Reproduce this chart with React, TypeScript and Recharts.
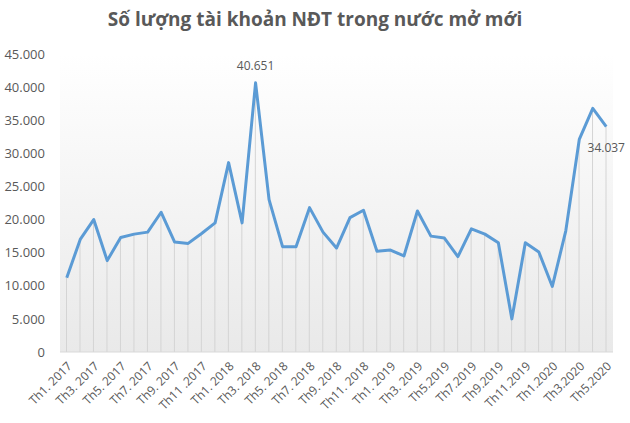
import React from 'react';
import { ComposedChart, Line, Bar, XAxis, YAxis, CartesianGrid, LabelList } from 'recharts';

const months = [
  'Th1. 2017', 'Th2. 2017', 'Th3. 2017', 'Th4. 2017', 'Th5. 2017', 'Th6. 2017',
  'Th7. 2017', 'Th8. 2017', 'Th9. 2017', 'Th10. 2017', 'Th11 .2017', 'Th12. 2017',
  'Th1. 2018', 'Th2. 2018', 'Th3. 2018', 'Th4. 2018', 'Th5. 2018', 'Th6. 2018',
  'Th7. 2018', 'Th8. 2018', 'Th9. 2018', 'Th10. 2018', 'Th11. 2018', 'Th12. 2018',
  'Th1. 2019', 'Th2. 2019', 'Th3. 2019', 'Th4.2019', 'Th5.2019', 'Th6.2019',
  'Th7.2019', 'Th8.2019', 'Th9.2019', 'Th10.2019', 'Th11.2019', 'Th12.2019',
  'Th1.2020', 'Th2.2020', 'Th3.2020', 'Th4.2020', 'Th5.2020',
];

const accounts = [
  11200, 17000, 20000, 13800, 17300, 17800, 18100, 21100, 16600, 16400, 17900, 19500,
  28600, 19500, 40651, 23000, 15900, 15900, 21800, 18100, 15700, 20300, 21400, 15200,
  15400, 14500, 21300, 17500, 17200, 14400, 18600, 17800, 16500, 5000, 16500, 15100,
  9900, 18300, 32100, 36800, 34037,
];

const yTicks = [0, 5000, 10000, 15000, 20000, 25000, 30000, 35000, 40000, 45000];

const data = months.map((m, i) => ({ month: m, value: accounts[i] }));

const fmt = (v: number) => String(v).replace(/\B(?=(\d{3})+(?!\d))/g, '.');

const FONT = '"Open Sans", sans-serif';
const GRAY = '#595959';

const MonthTick = (props: any) => {
  const { x, payload } = props;
  return (
    <g transform={`translate(${x + 3},${364})`}>
      <text
        textAnchor="end"
        transform="rotate(-45)"
        fontSize={12}
        fontFamily={FONT}
        fill={GRAY}
        dy="0.35em"
      >
        {payload.value}
      </text>
    </g>
  );
};

const PeakLabel = (props: any) => {
  const { x, y, value, index } = props;
  if (index === 14) {
    return (
      <text x={x} y={y - 13} textAnchor="middle" fontSize={12} fontFamily={FONT} fill={GRAY}>
        {fmt(value)}
      </text>
    );
  }
  if (index === 40) {
    return (
      <text x={x} y={y + 25} textAnchor="middle" fontSize={12} fontFamily={FONT} fill={GRAY}>
        {fmt(value)}
      </text>
    );
  }
  return null;
};

export default function App() {
  return (
    <div style={{ position: 'absolute', left: 0, top: 0, width: 630, height: 423, background: '#fff' }}>
      <div
        style={{
          position: 'absolute',
          left: 0,
          top: 6,
          width: 630,
          textAlign: 'center',
          fontFamily: FONT,
          fontWeight: 700,
          fontSize: 19,
          color: GRAY,
          lineHeight: '26px',
        }}
      >
        Số lượng tài khoản NĐT trong nước mở mới
      </div>
      <ComposedChart width={630} height={423} data={data} margin={{ top: 54, right: 17, left: 0, bottom: 0 }}>
        <defs>
          <linearGradient id="plotBg" x1="0" y1="0" x2="0" y2="1">
            <stop offset="0%" stopColor="#ffffff" />
            <stop offset="100%" stopColor="#e9e9e9" />
          </linearGradient>
        </defs>
        <CartesianGrid horizontal={false} vertical={false} fill="url(#plotBg)" />
        <XAxis
          dataKey="month"
          interval={1}
          height={71}
          tick={<MonthTick />}
          tickLine={false}
          axisLine={{ stroke: '#d9d9d9' }}
        />
        <YAxis
          width={60}
          domain={[0, 45000]}
          ticks={yTicks}
          tickFormatter={fmt}
          tickLine={false}
          axisLine={false}
          tickSize={0}
          tickMargin={15}
          tick={{ fontSize: 13, fontFamily: FONT, fill: GRAY }}
        />
        <Bar dataKey="value" barSize={1} fill="#d4d4d4" isAnimationActive={false} />
        <Line
          dataKey="value"
          stroke="#5B9BD5"
          strokeWidth={3}
          dot={false}
          strokeLinejoin="round"
          isAnimationActive={false}
        >
          <LabelList dataKey="value" content={<PeakLabel />} />
        </Line>
      </ComposedChart>
    </div>
  );
}
